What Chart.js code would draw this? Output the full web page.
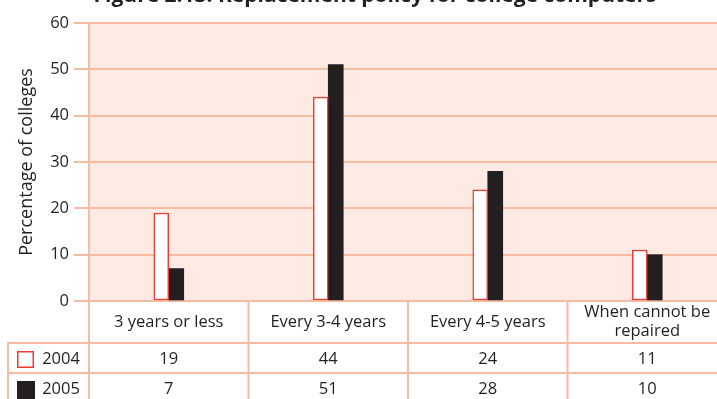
<!DOCTYPE html>
<html>
<head>
<meta charset="utf-8">
<script src="https://cdn.jsdelivr.net/npm/chart.js@4/dist/chart.umd.min.js"></script>
<style>
  html, body { margin: 0; padding: 0; background: #ffffff; overflow: hidden; }
  #wrap { position: relative; width: 717px; height: 399px; overflow: hidden; }
  #c { position: absolute; left: 0; top: -20px; width: 727px; height: 419px; }
</style>
</head>
<body>
<div id="wrap"><canvas id="c" width="727" height="419"></canvas></div>
<script>
// Replacement policy for college computers, 2004 vs 2005
const chartTitle = 'Figure 2.13: Replacement policy for college computers';
const categories = [['3 years or less'], ['Every 3-4 years'], ['Every 4-5 years'], ['When cannot be', 'repaired']];
const seriesNames = ['2004', '2005'];
const values2004 = [19, 44, 24, 11];
const values2005 = [7, 51, 28, 10];
const yTicks = [0, 10, 20, 30, 40, 50, 60];
const yTitle = 'Percentage of colleges';

const FONT = '"Open Sans", "Noto Sans", sans-serif';
const TEXT_SIZE = 16.5;
const INK = '#231f20';
const GRID = '#f8bca2';
const PANEL = '#fdebe3';
const RED = '#ee3b33';

// pink plot panel behind the grid
const panelBg = {
  id: 'panelBg',
  beforeDraw(chart) {
    const { ctx, chartArea: a } = chart;
    ctx.save();
    ctx.fillStyle = PANEL;
    ctx.fillRect(a.left, a.top, a.right - a.left, a.bottom - a.top);
    ctx.restore();
  }
};

// title plus the data table under the plot
const dataTable = {
  id: 'dataTable',
  afterDraw(chart) {
    const { ctx, chartArea: a, scales: { x } } = chart;
    const n = categories.length;
    const step = x.getPixelForValue(1) - x.getPixelForValue(0);
    const edges = [];
    for (let i = 0; i <= n; i++) edges.push(x.getPixelForValue(0) - step / 2 + i * step);

    const y0 = a.bottom, y1 = y0 + 42, y2 = y1 + 30, yEnd = chart.height + 5;
    const rowLeft = 8;

    ctx.save();
    // title
    ctx.fillStyle = INK;
    ctx.font = 'bold 21px ' + FONT;
    ctx.textAlign = 'center';
    ctx.textBaseline = 'alphabetic';
    ctx.fillText(chartTitle, 375, a.top - 21);

    // table rules
    ctx.strokeStyle = GRID;
    ctx.lineWidth = 2;
    const line = (xa, ya, xb, yb) => { ctx.beginPath(); ctx.moveTo(xa, ya); ctx.lineTo(xb, yb); ctx.stroke(); };
    line(rowLeft - 1, y1, a.right, y1);
    line(rowLeft - 1, y2, a.right, y2);
    line(rowLeft, y1, rowLeft, yEnd);
    line(a.left, y0, a.left, yEnd);
    for (let i = 1; i < n; i++) line(edges[i], y0, edges[i], yEnd);

    // category headers
    ctx.fillStyle = INK;
    ctx.font = TEXT_SIZE + 'px ' + FONT;
    ctx.textAlign = 'center';
    ctx.textBaseline = 'middle';
    categories.forEach((lab, i) => {
      const cx = (edges[i] + edges[i + 1]) / 2;
      if (lab.length === 1) ctx.fillText(lab[0], cx, y0 + 21);
      else lab.forEach((t, k) => ctx.fillText(t, cx, y0 + 11 + k * 19));
    });

    // series rows
    const rows = [values2004, values2005];
    rows.forEach((vals, r) => {
      const ry = y1 + r * 30;
      // legend swatch
      if (r === 0) {
        ctx.fillStyle = '#ffffff';
        ctx.fillRect(17, ry + 8, 17, 17);
        ctx.strokeStyle = RED;
        ctx.lineWidth = 1.5;
        ctx.strokeRect(17.75, ry + 8.75, 15.5, 15.5);
      } else {
        ctx.fillStyle = INK;
        ctx.fillRect(17, ry + 8, 18, 18);
      }
      ctx.fillStyle = INK;
      ctx.textAlign = 'center';
      ctx.fillText(seriesNames[r], 61, ry + 16);
      vals.forEach((v, i) => {
        ctx.fillText(String(v), (edges[i] + edges[i + 1]) / 2, ry + 16);
      });
    });
    ctx.restore();
  }
};

new Chart(document.getElementById('c'), {
  type: 'bar',
  data: {
    labels: categories.map(c => c.join(' ')),
    datasets: [
      {
        label: seriesNames[0],
        data: values2004,
        backgroundColor: '#ffffff',
        borderColor: RED,
        borderWidth: 1.5,
        borderSkipped: false,
        barThickness: 15
      },
      {
        label: seriesNames[1],
        data: values2005,
        backgroundColor: INK,
        borderWidth: 0,
        barThickness: 15
      }
    ]
  },
  options: {
    responsive: false,
    animation: false,
    events: [],
    layout: { padding: { top: 43, right: 0, bottom: 98, left: 0 } },
    plugins: {
      legend: { display: false },
      title: { display: false },
      tooltip: { enabled: false }
    },
    scales: {
      x: { type: 'category', display: false, offset: true },
      y: {
        min: yTicks[0],
        max: yTicks[yTicks.length - 1],
        afterBuildTicks(scale) { scale.ticks = yTicks.map(v => ({ value: v })); },
        afterFit(scale) { scale.width = 89; },
        ticks: { color: INK, font: { family: FONT, size: TEXT_SIZE }, padding: 5 },
        grid: { color: GRID, lineWidth: 2, tickLength: 15, drawTicks: true },
        border: { display: true, color: GRID, width: 2 },
        title: {
          display: true,
          text: yTitle,
          color: INK,
          font: { family: FONT, size: 18 },
          padding: { top: 16, bottom: 0 }
        }
      }
    }
  },
  plugins: [panelBg, dataTable]
});
</script>
</body>
</html>
